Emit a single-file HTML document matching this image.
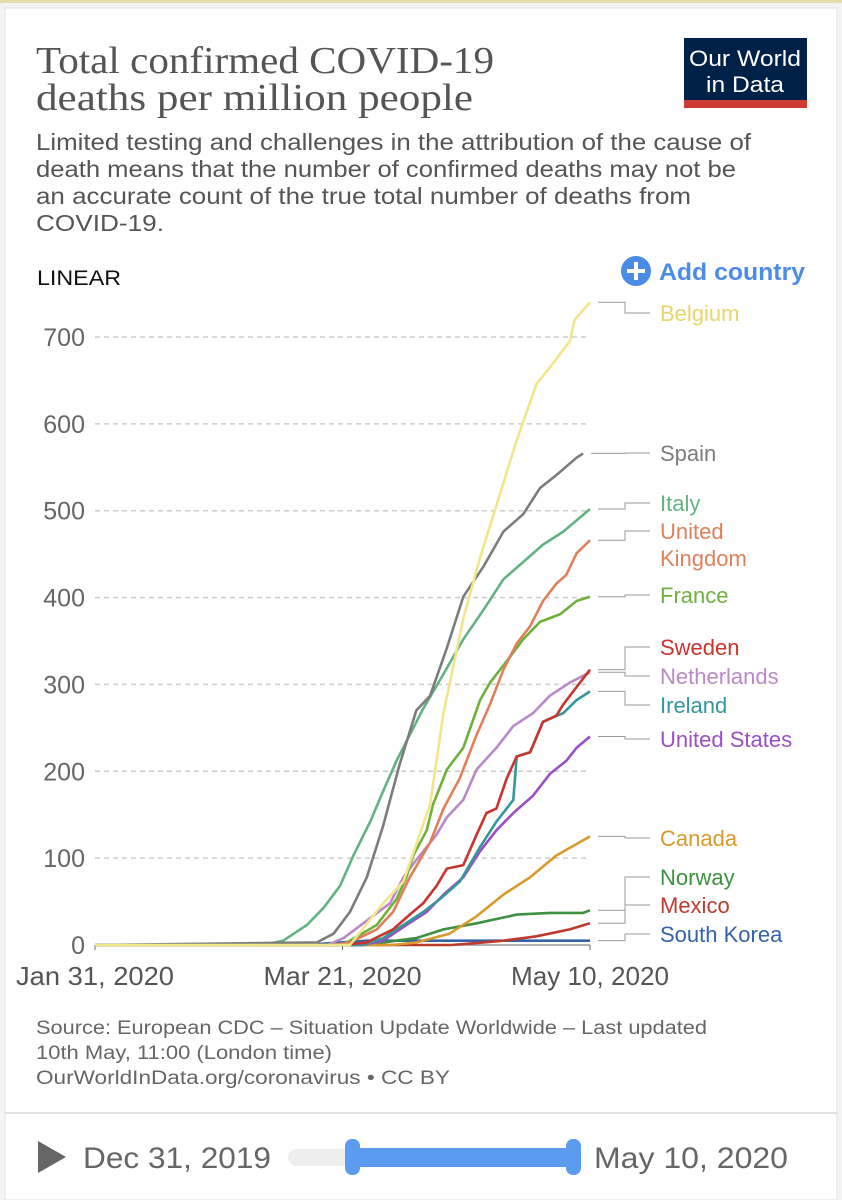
<!DOCTYPE html>
<html><head><meta charset="utf-8"><style>
html,body{margin:0;padding:0;background:#fff;}
svg{display:block;}
text{font-family:"Liberation Sans",sans-serif;}
text.serif{font-family:"Liberation Serif",serif;}
</style></head><body>
<svg id="chart" width="842" height="1200" viewBox="0 0 842 1200" xmlns="http://www.w3.org/2000/svg">
<rect x="0" y="0" width="842" height="1200" fill="#f4f4f4"/>
<rect x="0" y="0" width="842" height="3" fill="#e8dcae"/>
<rect x="5" y="8" width="832" height="1192" fill="#fff" stroke="#e2e2e2"/>
<g fill="#555" font-size="38">
<text class="serif" x="36" y="73" textLength="458" lengthAdjust="spacingAndGlyphs">Total confirmed COVID-19</text>
<text class="serif" x="36" y="110" textLength="437" lengthAdjust="spacingAndGlyphs">deaths per million people</text>
</g>
<g>
<rect x="684" y="38" width="123" height="70" fill="#002147"/>
<rect x="684" y="100" width="123" height="8" fill="#ce3b32"/>
<text x="745" y="66" fill="#fff" font-size="22" text-anchor="middle" textLength="112" lengthAdjust="spacingAndGlyphs">Our World</text>
<text x="745" y="92" fill="#fff" font-size="22" text-anchor="middle" textLength="78" lengthAdjust="spacingAndGlyphs">in Data</text>
</g>
<g fill="#555" font-size="23">
<text x="36" y="150" textLength="715" lengthAdjust="spacingAndGlyphs">Limited testing and challenges in the attribution of the cause of</text>
<text x="36" y="177" textLength="700" lengthAdjust="spacingAndGlyphs">death means that the number of confirmed deaths may not be</text>
<text x="36" y="204" textLength="655" lengthAdjust="spacingAndGlyphs">an accurate count of the true total number of deaths from</text>
<text x="36" y="231" textLength="128" lengthAdjust="spacingAndGlyphs">COVID-19.</text>
</g>
<text x="37" y="285" font-size="21" fill="#111" textLength="84" lengthAdjust="spacingAndGlyphs">LINEAR</text>
<g>
<circle cx="636" cy="271" r="15" fill="#4c8be6"/>
<rect x="634" y="262" width="4" height="18" fill="#fff"/><rect x="627" y="269" width="18" height="4" fill="#fff"/>
<text x="659" y="280" font-size="24" fill="#4c8be6" font-weight="bold" textLength="146" lengthAdjust="spacingAndGlyphs">Add country</text>
</g>
<g id="grid"></g><g id="ylabels"></g><g id="xaxis"></g><g id="series"></g><g id="labels"></g>
<g fill="#666" font-size="19">
<text x="36" y="1034" textLength="671" lengthAdjust="spacingAndGlyphs">Source: European CDC – Situation Update Worldwide – Last updated</text>
<text x="36" y="1059" textLength="296" lengthAdjust="spacingAndGlyphs">10th May, 11:00 (London time)</text>
<text x="36" y="1084" textLength="414" lengthAdjust="spacingAndGlyphs">OurWorldInData.org/coronavirus • CC BY</text>
</g>
<rect x="5" y="1112" width="832" height="2" fill="#e2e2e2"/>
<polygon points="38,1141 66,1157 38,1173" fill="#666"/>
<text x="83" y="1168" font-size="30" fill="#666" textLength="188" lengthAdjust="spacingAndGlyphs">Dec 31, 2019</text>
<rect x="288" y="1149" width="290" height="17" rx="8.5" fill="#eee"/>
<rect x="352" y="1148" width="222" height="19" fill="#5b9bf0"/>
<rect x="345" y="1139" width="15" height="36" rx="7" fill="#5b9bf0"/>
<rect x="566" y="1139" width="15" height="36" rx="7" fill="#5b9bf0"/>
<text x="594" y="1168" font-size="30" fill="#666" textLength="194" lengthAdjust="spacingAndGlyphs">May 10, 2020</text>
</svg>
<script>
const yTicks=[0,100,200,300,400,500,600,700];
const xTickDays=[0,50,100];
const xTickLabels=["Jan 31, 2020","Mar 21, 2020","May 10, 2020"];
const countries=["Belgium","Spain","Italy","United Kingdom","France","Sweden","Netherlands","Ireland","United States","Canada","Norway","Mexico","South Korea"];
const colors=["#f2e58a","#7c7c7c","#63b382","#e0805b","#70b13e","#c9342e","#b98ac8","#35979b","#9b4fc5","#d99a2b","#3e9140","#bd3a2f","#3463ab"];
const belgiumDays=[0,51.5,58.2,62.3,67.7,70.4,74.4,77.8,81.1,85.2,89.2,91.9,95.9,96.9,100];
const belgiumVals=[0,0,48,73,162,267,376,446,506,581,646,665,695,720,740];
const spainDays=[0,44.8,48.2,51.5,54.9,58.2,61.5,64.9,67.7,71.1,74.4,78.5,82.5,86.5,89.9,93.2,97.3,98.6];
const spainVals=[0,3,13,38,78,137,207,270,287,342,401,436,476,496,526,541,561,566];
const italyDays=[0,34,38,42.8,46.2,49.5,52.2,55.6,58.2,60.9,63.6,66.3,70.4,74.4,78.5,82.5,86.5,90.5,94.6,100];
const italyVals=[0,0,5,23,43,68,103,142,177,212,242,272,312,352,386,421,441,461,476,502];
const ukDays=[0,48,51.5,56.9,60.2,63.6,67.7,70.4,73.7,77.1,79.8,82.5,85.2,87.9,90.5,93.2,95.2,97.3,100];
const ukVals=[0,0,3,18,38,78,118,157,192,242,277,317,347,367,396,416,426,451,466];
const franceDays=[0,50,56.9,60.9,62.9,64.3,67,68.3,71.1,74.4,77.8,79.8,83.2,86.5,89.9,94,97.3,100];
const franceVals=[0,0,23,53,78,103,132,162,202,227,282,302,327,352,372,381,396,401];
const swedenDays=[0,50,54.9,60.2,63.6,66.3,69,71.1,74.4,77.1,79.1,81.1,83.2,85.2,87.9,90.5,93.2,94.6,97.3,100];
const swedenVals=[0,0,3,18,35,48,68,88,92,127,152,157,192,217,222,257,264,277,297,317];
const netherlandsDays=[0,47,50.2,54.9,59.6,62.3,64.9,69,71.1,74.4,77.1,81.1,84.5,88.5,91.9,95.9,100];
const netherlandsVals=[0,0,8,28,48,78,98,127,147,167,202,227,252,267,287,302,314];
const irelandDays=[0,54,58.2,62.3,66.3,69.7,73.7,77.8,81.1,84.5,85.2,87.9,90.5,94.6,97.3,100];
const irelandVals=[0,0,8,23,38,53,73,113,142,167,217,222,257,267,282,292];
const usDays=[0,54,58.2,62.9,67,70.4,74.4,77.8,81.1,84.5,88.5,91.9,95.2,97.3,100];
const usVals=[0,0,5,23,38,58,78,108,132,152,172,197,212,227,240];
const canadaDays=[0,60,64.9,71.6,77.1,82.5,87.9,93.2,100];
const canadaVals=[0,0,3,13,33,58,78,103,125];
const norwayDays=[0,54,58.2,64.9,70.4,77.1,85.2,91.9,98.6,100];
const norwayVals=[0,0,3,8,18,25,35,37,37,40];
const mexicoDays=[0,72,76.4,82.5,89.2,95.9,100];
const mexicoVals=[0,0,2,5,10,18,25];
const koreaDays=[0,45,55,100];
const koreaVals=[0,1,5,5];
const seriesDays=[belgiumDays,spainDays,italyDays,ukDays,franceDays,swedenDays,netherlandsDays,irelandDays,usDays,canadaDays,norwayDays,mexicoDays,koreaDays];
const seriesVals=[belgiumVals,spainVals,italyVals,ukVals,franceVals,swedenVals,netherlandsVals,irelandVals,usVals,canadaVals,norwayVals,mexicoVals,koreaVals];
const labelYs=[313,453,503,531,595,647,676,705,739,838,877,905,934];

const X0=95,X1=590,D0=0,D1=100,Y0=945,Y1=337,V0=0,V1=700;
function xs(d){return X0+(d-D0)/(D1-D0)*(X1-X0);}
function ys(v){return Y0-(v-V0)/(V1-V0)*(Y0-Y1);}
const NS="http://www.w3.org/2000/svg";
function mk(tag,attrs,parent){const e=document.createElementNS(NS,tag);for(const k in attrs)e.setAttribute(k,attrs[k]);parent.appendChild(e);return e;}
const grid=document.getElementById('grid'),yl=document.getElementById('ylabels'),xa=document.getElementById('xaxis'),sg=document.getElementById('series'),lg=document.getElementById('labels');
yTicks.forEach(t=>{
  if(t>0){const l=mk('line',{x1:X0,x2:X1,y1:ys(t),y2:ys(t),stroke:'#ccc','stroke-dasharray':'5,4','stroke-width':1.5},grid);
  
  }
  const tx=mk('text',{x:85,y:ys(t)+9,'text-anchor':'end','font-size':25,fill:'#666'},yl);
  tx.textContent=t;
  
  
});
const ax=mk('line',{x1:X0,x2:X1,y1:Y0,y2:Y0,stroke:'#999','stroke-width':1.5},xa);


xTickDays.forEach((d,i)=>{
  mk('line',{x1:xs(d),x2:xs(d),y1:Y0,y2:Y0+5,stroke:'#666'},xa);
  const tx=mk('text',{x:xs(d),y:985,'text-anchor':'middle','font-size':26,fill:'#555',textLength:158,lengthAdjust:'spacingAndGlyphs'},xa);
  tx.textContent=xTickLabels[i];
  
  
});
for(let i=countries.length-1;i>=0;i--){
  const d=seriesDays[i],v=seriesVals[i];
  const pts=d.map((dd,j)=>xs(dd).toFixed(1)+','+ys(v[j]).toFixed(1)).join(' ');
  const p=mk('polyline',{points:pts,fill:'none',stroke:colors[i],'stroke-width':2.6,'stroke-linejoin':'round'},sg);
  
  
}
countries.forEach((c,i)=>{
  const d=seriesDays[i],v=seriesVals[i];
  const ey=ys(v[v.length-1]),ly=labelYs[i];
  const ex=xs(d[d.length-1])+8;
  mk('polyline',{points:`${ex},${ey} 625,${ey} 625,${ly} 650,${ly}`,fill:'none',stroke:'#999','stroke-width':1},lg);
  const t=mk('text',{x:660,y:labelYs[i]+8,'font-size':22,fill:colors[i]},lg);
  if(c==='United Kingdom'){
    const a=mk('tspan',{x:660,y:labelYs[i]+8},t);a.textContent='United';
    const b=mk('tspan',{x:660,y:labelYs[i]+35},t);b.textContent='Kingdom';
  } else t.textContent=c;
  if(c==='Belgium')t.setAttribute('fill','#e8d66a');
  
  
});
</script>
</body></html>
